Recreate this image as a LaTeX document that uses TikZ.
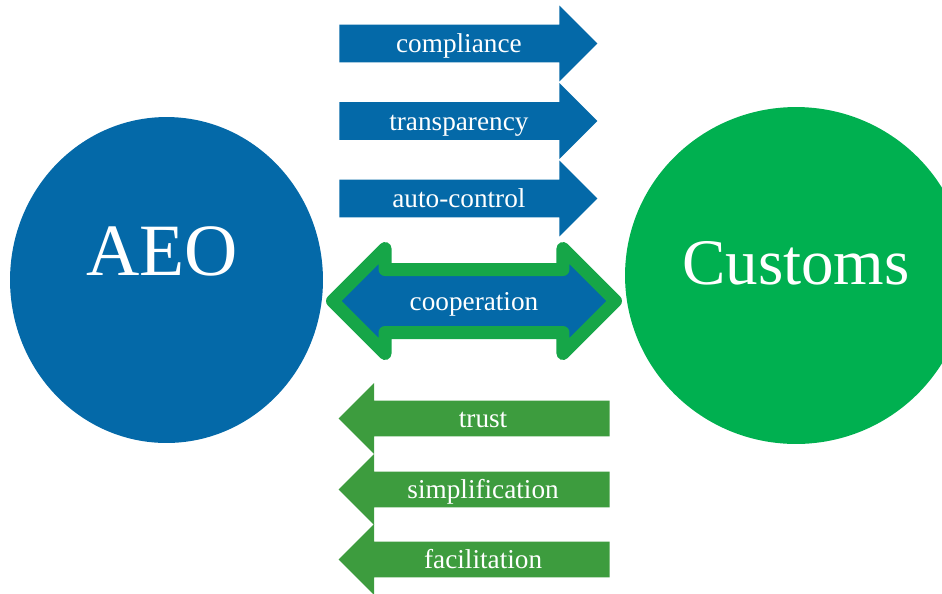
\documentclass[tikz,border=0pt]{standalone}
\usepackage{fontspec}
\setmainfont{Liberation Serif}
\usetikzlibrary{shapes.geometric,shapes.arrows,positioning}

\definecolor{aeoblue}{RGB}{4,105,168}
\definecolor{customsgreen}{RGB}{0,176,80}
\definecolor{trustgreen}{RGB}{61,156,62}
\definecolor{coopgreen}{RGB}{22,166,72}

\begin{document}
\begin{tikzpicture}[x=0.02cm, y=-0.02cm,
    party/.style={ellipse, inner sep=0pt},
    partytext/.style={text=white, anchor=base},
    arrowtext/.style={text=white, font=\fontsize{15.5}{18}\selectfont, text height=0.38cm, text depth=0.02cm, inner xsep=0.2cm},
    giveside/.style={arrowtext, single arrow, fill=aeoblue, inner ysep=0.17cm, single arrow head extend=0.38cm, minimum height=5.16cm, anchor=tail},
    getside/.style={arrowtext, single arrow, shape border rotate=180, fill=trustgreen, inner ysep=0.15cm, single arrow head extend=0.35cm, minimum height=5.42cm, anchor=tail},
    both/.style={arrowtext, double arrow, fill=aeoblue, draw=coopgreen, line width=0.26cm, line join=round, inner ysep=0.30cm, double arrow head extend=0.42cm, minimum height=5.66cm}
]
    \useasboundingbox (0,0) rectangle (942,593);

    % the two parties
    \node[party, fill=aeoblue, minimum width=6.26cm, minimum height=6.52cm] (aeo) at (166.5,280) {};
    \node[party, fill=customsgreen, minimum width=6.84cm, minimum height=6.74cm] (customs) at (796,275.5) {};
    \node[partytext, font=\fontsize{42}{48}\selectfont] (aeolabel) at (162,275) {AEO};
    \node[partytext, font=\fontsize{37}{44}\selectfont] (customslabel) at (796,284) {Customs};

    % AEO gives
    \node[giveside] (compliance) at (339,43.5) {compliance};
    \node[giveside] (transparency) at (339,121) {transparency};
    \node[giveside] (autocontrol) at (339,198.5) {auto-control};

    % both ways
    \node[both] (coop) at (474,301) {cooperation};

    % Customs gives
    \node[getside] (trust) at (610,418.5) {trust};
    \node[getside] (simplification) at (610,489.5) {simplification};
    \node[getside] (facilitation) at (610,559.5) {facilitation};
\end{tikzpicture}
\end{document}
